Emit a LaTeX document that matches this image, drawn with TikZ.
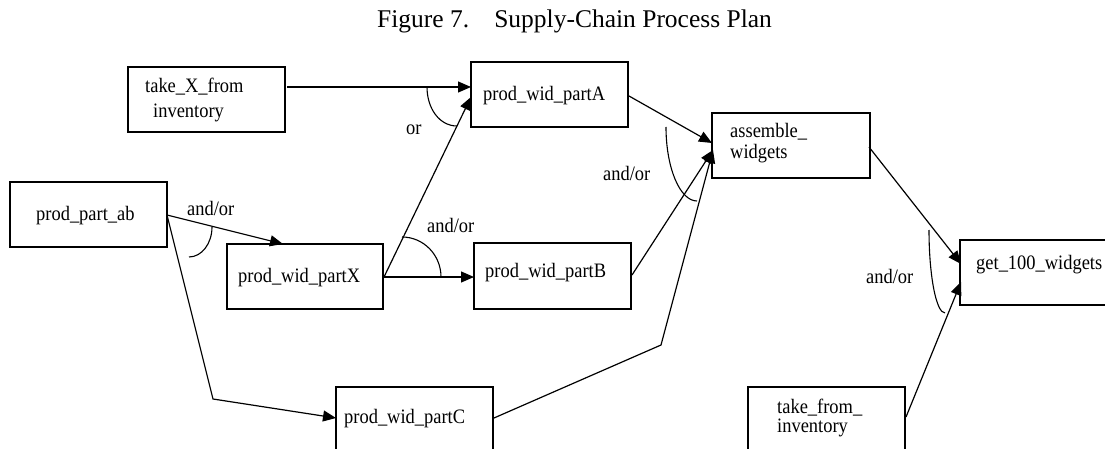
\documentclass[tikz,border=0pt]{standalone}
\usepackage{fontspec}
\setmainfont{Liberation Serif}
\newfontfamily\labfont{Liberation Serif}[FakeStretch=0.9]
\usetikzlibrary{arrows.meta,calc}
\begin{document}
\begin{tikzpicture}[x=1pt,y=-1pt,
  box/.style={draw, line width=1.2pt, rectangle, inner sep=0pt, outer sep=0pt},
  txt/.style={anchor=base west, inner sep=0pt, font=\labfont\fontsize{20.5}{22}\selectfont},
  conn/.style={line width=1.2pt, -{Triangle[length=13pt,width=11pt]}},
  arcline/.style={line width=1.1pt}]
\useasboundingbox (0,0) rectangle (1105,449);
\clip (0,0) rectangle (1105,449);
\fill[white] (0,0) rectangle (1105,449);

% title
\node[anchor=base west, inner sep=0pt, font=\fontsize{25.5}{30}\selectfont] (title) at (377,28) {Figure 7.\hspace{25pt}Supply-Chain Process Plan};

% boxes
\node[box, minimum width=157pt, minimum height=65pt] (tX)   at (206.5,99.5) {};
\node[box, minimum width=157pt, minimum height=65pt] (pA)   at (549.5,94.5) {};
\node[box, minimum width=158pt, minimum height=65pt] (asm)  at (791,145.5) {};
\node[box, minimum width=150pt, minimum height=65pt] (g100) at (1035,272.5) {};
\node[box, minimum width=157pt, minimum height=68pt] (tfi)  at (826.5,421) {};
\node[box, minimum width=157pt, minimum height=65pt] (ab)   at (88.5,214.5) {};
\node[box, minimum width=156pt, minimum height=65pt] (pX)   at (305,276.5) {};
\node[box, minimum width=157pt, minimum height=66pt] (pB)   at (552.5,276) {};
\node[box, minimum width=157pt, minimum height=68pt] (pC)   at (414.5,421) {};

% box texts
\node[txt] (tXt) at (145,93) {\begin{tabular}[t]{@{}l@{}}take\_X\_from\\[3pt]\hspace{8pt}inventory\end{tabular}};
\node[txt] (pAt) at (483,101) {prod\_wid\_partA};
\node[txt] (asmt) at (730,138) {\begin{tabular}[t]{@{}l@{}}assemble\_\\[-1.5pt]widgets\end{tabular}};
\node[txt] (g100t) at (976,269) {get\_100\_widgets};
\node[txt] (tfit) at (777,413) {\begin{tabular}[t]{@{}l@{}}take\_from\_\\[-3pt]inventory\end{tabular}};
\node[txt] (abt) at (36,220) {prod\_part\_ab};
\node[txt] (pXt) at (238,282) {prod\_wid\_partX};
\node[txt] (pBt) at (485,277) {prod\_wid\_partB};
\node[txt] (pCt) at (344,423) {prod\_wid\_partC};

% connector labels
\node[txt] (l1) at (406,135) {or};
\node[txt] (l2) at (187,215) {and/or};
\node[txt] (l3) at (427,232) {and/or};
\node[txt] (l4) at (603,181) {and/or};
\node[txt] (l5) at (866,283) {and/or};

% bend points
\coordinate (bend1) at (213,399);
\coordinate (bend2) at (661,345);

% connectors
\draw[conn] ($(tX.north east)+(2,20)$) -- ($(pA.north west)+(0,25)$);
\draw[conn] ($(pX.north east)+(1,33)$) -- ($(pA.north west)+(0,35)$);
\draw[conn] ($(ab.north east)+(0,33)$) -- ($(pX.north west)+(56,0)$);
\draw[conn] ($(ab.north east)+(0,33)$) -- (bend1) -- ($(pC.north west)+(0,31)$);
\draw[conn] ($(pX.north east)+(1,33)$) -- ($(pB.north west)+(0,34)$);
\draw[conn] ($(pA.north east)+(1,34)$) -- ($(asm.north west)+(0,30)$);
\draw[conn] ($(pB.north east)+(1,32)$) -- ($(asm.north west)+(1,37)$);
\draw[conn] ($(pC.north east)+(1,31)$) -- (bend2) -- ($(asm.north west)+(1,37)$);
\draw[conn] ($(asm.north east)+(-1,34)$) -- ($(g100.north west)+(1,24)$);
\draw[conn] ($(tfi.north east)+(1,30)$) -- ($(g100.north west)+(1,42)$);

% and/or arcs
\draw[arcline] (427,87) .. controls (427,108.5) and (439.5,126) .. (457,126);
\draw[arcline] (212,227) .. controls (212,243.6) and (201.7,257) .. (189,257);
\draw[arcline] (402,237) .. controls (423.5,237) and (441,254.9) .. (441,277);
\draw[arcline] (666,127) .. controls (666,167.8) and (679.9,201) .. (697,201);
\draw[arcline] (929,230) .. controls (929,275.8) and (936.2,313) .. (945,313);
\end{tikzpicture}
\end{document}
